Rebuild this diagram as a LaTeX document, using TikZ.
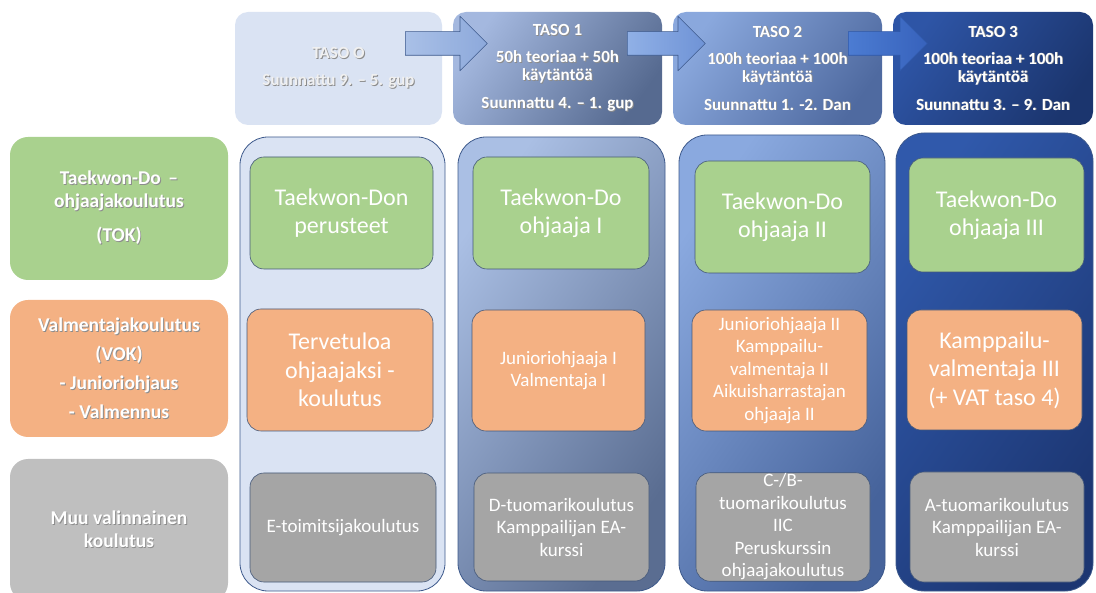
\documentclass[tikz,border=0pt]{standalone}
\usepackage{fontspec}
\setmainfont{Carlito}
\usetikzlibrary{shapes.arrows}
\definecolor{tgreen}{HTML}{A9D18E}
\definecolor{torange}{HTML}{F4B183}
\definecolor{tgrey}{HTML}{BFBFBF}
\definecolor{igrey}{HTML}{A5A5A5}
\definecolor{pale}{HTML}{DAE3F3}
\definecolor{edge}{HTML}{45597A}
\definecolor{pedge}{HTML}{3E5A8C}
% liukuvarit
\definecolor{p1a}{HTML}{AABFE4}\definecolor{p1b}{HTML}{5A6D91}
\definecolor{p2a}{HTML}{8AA9DF}\definecolor{p2b}{HTML}{46639B}
\definecolor{p3a}{HTML}{3059AB}\definecolor{p3b}{HTML}{1C3672}
\definecolor{h1a}{HTML}{A4B8DF}\definecolor{h1b}{HTML}{566A90}
\definecolor{h2a}{HTML}{8AA8DD}\definecolor{h2b}{HTML}{4F6AA0}
\definecolor{h3a}{HTML}{2E55A6}\definecolor{h3b}{HTML}{1B356E}
\definecolor{a1a}{HTML}{A9C0E7}\definecolor{a1b}{HTML}{8DA9DB}
\definecolor{a2a}{HTML}{90B0E6}\definecolor{a2b}{HTML}{6F93D6}
\definecolor{a3a}{HTML}{4C7CD2}\definecolor{a3b}{HTML}{3762BC}
\definecolor{a3e}{HTML}{2F58A8}
\newcommand\shd[1]{\leavevmode\rlap{\kern.9pt\raisebox{-.9pt}{\color{black!45}#1}}#1}
\begin{document}
\begin{tikzpicture}[x=1pt,y=-1pt,line join=round,
	grad/.style 2 args={top color=#1,bottom color=#2,shading angle=55},
	lab/.style={rounded corners=18pt,text=white,align=center,minimum width=218pt,
		font=\bfseries\fontsize{19.5}{23}\selectfont},
	head/.style={rounded corners=13pt,text=white,align=center,minimum height=113pt,
		font=\bfseries\fontsize{17}{18}\selectfont},
	panel/.style={rounded corners=28pt,draw=pedge,line width=.8pt},
	box/.style={rounded corners=14pt,draw=edge,line width=.6pt,text=white,align=center,inner sep=1pt},
	gbig/.style={box,fill=tgreen,font=\fontsize{24}{28.5}\selectfont},
	obig/.style={box,fill=torange,font=\fontsize{24}{28.5}\selectfont},
	osmall/.style={box,fill=torange,font=\fontsize{19}{22.5}\selectfont},
	ysmall/.style={box,fill=igrey,font=\fontsize{19}{22.5}\selectfont},
	blk/.style={single arrow,single arrow head extend=15.5pt,inner xsep=0pt,
		inner ysep=11.5pt,text height=0pt,text depth=0pt,anchor=tail,draw=#1,line width=.6pt}]
\useasboundingbox (0,0) rectangle (1096,593);
\clip (0,0) rectangle (1096,593);

% rivit
\node[lab,fill=tgreen,minimum height=143pt] (tok) at (119,208.5)
	{\shd{Taekwon-Do \,--}\\\shd{ohjaajakoulutus}\\[11pt]\shd{(TOK)}};
\node[lab,fill=torange,minimum height=137pt] (vok) at (119,368.5)
	{\shd{Valmentajakoulutus}\\[6pt]\shd{(VOK)}\\[6pt]\shd{- Junioriohjaus}\\[6pt]\shd{- Valmennus}};
\node[lab,fill=tgrey,minimum height=142pt] (muu) at (119,530)
	{\shd{Muu valinnainen}\\\shd{koulutus}};

% sarakkeet
\node[panel,fill=pale,minimum width=205pt,minimum height=454pt] (p0) at (342.5,364) {};
\node[panel,grad={p1a}{p1b},minimum width=207pt,minimum height=454pt] (p1) at (561.5,364) {};
\node[panel,grad={p2a}{p2b},minimum width=206pt,minimum height=456pt] (p2) at (782,363) {};
\node[panel,grad={p3a}{p3b},minimum width=197pt,minimum height=458pt] (p3) at (994.5,362) {};

\foreach \n/\s/\x/\y/\w/\h/\t in {
	g0/gbig/341.5/213/183/112/{Taekwon-Don\\perusteet},
	o0/obig/340/370/186/122/{Tervetuloa\\ohjaajaksi -\\koulutus},
	y0/ysmall/343/527.5/186/109/{E-toimitsijakoulutus},
	g1/gbig/561/213/176/112/{Taekwon-Do\\ohjaaja I},
	o1/osmall/558.5/370.5/173/121/{Junioriohjaaja I\\Valmentaja I},
	y1/ysmall/561.5/527/175/108/{D-tuomarikoulutus\\Kamppailijan EA-\\kurssi},
	g2/gbig/782.5/217/175/112/{Taekwon-Do\\ohjaaja II},
	o2/osmall/779.5/370.5/175/121/{Junioriohjaaja II\\Kamppailu-\\valmentaja II\\Aikuisharrastajan\\ohjaaja II},
	y2/ysmall/783/527/174/108/{C-/B-\\tuomarikoulutus\\IIC\\Peruskurssin\\ohjaajakoulutus},
	g3/gbig/996.5/215/175/114/{Taekwon-Do\\ohjaaja III},
	o3/obig/994.5/370/175/120/{Kamppailu-\\valmentaja III\\(+ VAT taso 4)},
	y3/ysmall/997/527/174/110/{A-tuomarikoulutus\\Kamppailijan EA-\\kurssi}}
	\node[\s,minimum width=\w pt,minimum height=\h pt] (\n) at (\x,\y) {\t};

% tasot
\node[head,fill=pale,text=white!94!black,minimum width=207pt] (h0) at (338.5,68.5)
	{\shd{TASO O}\\[9pt]\shd{Suunnattu 9. -- 5. gup}};
\node[head,grad={h1a}{h1b},minimum width=209pt] (h1) at (557.5,68.5)
	{\shd{TASO 1}\\[9pt]\shd{50h teoriaa + 50h}\\\shd{käytäntöä}\\[10pt]\shd{Suunnattu 4. -- 1. gup}};
\node[head,grad={h2a}{h2b},minimum width=209pt] (h2) at (777.5,68.5)
	{\shd{TASO 2}\\[9pt]\shd{100h teoriaa + 100h}\\\shd{käytäntöä}\\[10pt]\shd{Suunnattu 1. -2. Dan}};
\node[head,grad={h3a}{h3b},minimum width=200pt] (h3) at (993,68.5)
	{\shd{TASO 3}\\[9pt]\shd{100h teoriaa + 100h}\\\shd{käytäntöä}\\[10pt]\shd{Suunnattu 3. -- 9. Dan}};

% nuolet
\node[blk=pedge,left color=a1a,right color=a1b,minimum height=82pt] (a1) at (405,43.5) {};
\node[blk=pedge,left color=a2a,right color=a2b,minimum height=78pt] (a2) at (627,43.5) {};
\node[blk=a3e,left color=a3a,right color=a3b,minimum height=79pt] (a3) at (848,43.5) {};
\end{tikzpicture}
\end{document}
